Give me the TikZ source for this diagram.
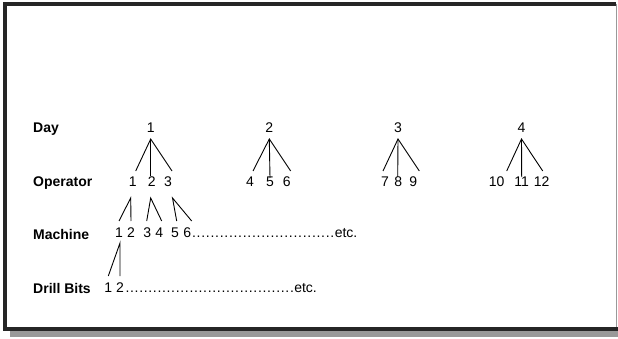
\documentclass[tikz,border=0pt]{standalone}
\usepackage{fontspec}
\setmainfont{Liberation Sans}
\begin{document}
\begin{tikzpicture}[x=1pt,y=-1pt,
  dig/.style={inner sep=0pt,outer sep=6pt,text height=10pt,text depth=0pt,font=\fontsize{14}{16}\selectfont,anchor=base},
  lbl/.style={inner sep=0pt,anchor=base west,font=\bfseries\fontsize{14}{16}\selectfont},
  tie/.style={line width=0.9pt,black},
  dotrow/.style={inner sep=0pt,anchor=base west,font=\fontsize{14}{16}\selectfont}]
\useasboundingbox (0,0) rectangle (618,339);
% frame and shadow
\fill[black!40] (10,331) rectangle (618,337);
\fill[white] (4.5,4) rectangle (616,329);
\draw[line width=1.2pt,black!40] (616.8,4) -- (616.8,329);
\draw[line width=4pt,black!85,line join=miter] (616,4) -- (4.5,4) -- (4.5,329) -- (618,329);
% labels
\node[lbl] (lday) at (33,132.7) {Day};
\node[lbl] (lop) at (33,186.5) {Operator};
\node[lbl] (lmach) at (33,239.3) {Machine};
\node[lbl] (ldrill) at (33,293.3) {Drill Bits};
% days
\node[dig] (d1) at (150.7,133) {1};
\node[dig] (d2) at (269.3,133) {2};
\node[dig] (d3) at (398,133) {3};
\node[dig] (d4) at (521.5,133) {4};
% operators
\node[dig] (o1) at (132.7,187) {1};
\node[dig] (o2) at (151.7,187) {2};
\node[dig] (o3) at (168,187) {3};
\node[dig] (o4) at (250,187) {4};
\node[dig] (o5) at (270,187) {5};
\node[dig] (o6) at (286.7,187) {6};
\node[dig] (o7) at (385,187) {7};
\node[dig] (o8) at (398.3,187) {8};
\node[dig] (o9) at (413.3,187) {9};
\node[dig] (o10) at (496.7,187) {10};
\node[dig] (o11) at (521.7,187) {11};
\node[dig] (o12) at (541.7,187) {12};
% machines
\node[dig] (m1) at (119,237) {1};
\node[dig] (m2) at (131,237) {2};
\node[dig] (m3) at (147.3,237) {3};
\node[dig] (m4) at (159.3,237) {4};
\node[dig] (m5) at (175,237) {5};
\node[dig] (m6) at (187.3,237) {6};
\node[dotrow] (mdots) at (191.5,237) {\xleaders\hbox to 4.5pt{\hss.\hss}\hskip 143pt\relax etc.};
% drill bits
\node[dig] (b1) at (108.3,292) {1};
\node[dig] (b2) at (120,292) {2};
\node[dotrow] (bdots) at (125,292) {\xleaders\hbox to 4.5pt{\hss.\hss}\hskip 169pt\relax etc.};
% day -> operator
\draw[tie] ([xshift=3pt]o1.north) -- (d1.south) -- ([xshift=4pt]o3.north);
\draw[tie] (d1.south) -- ([xshift=-1pt,yshift=-5pt]o2.north);
\draw[tie] ([xshift=3pt]o4.north) -- (d2.south) -- ([xshift=4pt]o6.north);
\draw[tie] (d2.south) -- ([yshift=-7pt]o5.north);
\draw[tie] ([xshift=-2pt]o7.north) -- (d3.south) -- ([xshift=6pt]o9.north);
\draw[tie] (d3.south) -- ([xshift=-0.6pt,yshift=-6pt]o8.north);
\draw[tie] ([xshift=10pt]o10.north) -- (d4.south) -- ([xshift=1pt]o12.north);
\draw[tie] (d4.south) -- ([yshift=-6pt]o11.north);
% operator -> machine
\draw[tie] (m1.north) -- ([xshift=-2pt,yshift=-5pt]o1.south) -- (m2.north);
\draw[tie] ([xshift=-0.6pt]m3.north) -- ([xshift=-1pt,yshift=-5pt]o2.south) -- ([xshift=2.4pt]m4.north);
\draw[tie] ([xshift=1.7pt]m5.north) -- ([xshift=4.5pt,yshift=-5pt]o3.south) -- ([xshift=4.4pt]m6.north);
% machine -> drill bits
\draw[tie] (b1.north) -- ([xshift=1pt]m1.south) -- (b2.north);
\end{tikzpicture}
\end{document}
